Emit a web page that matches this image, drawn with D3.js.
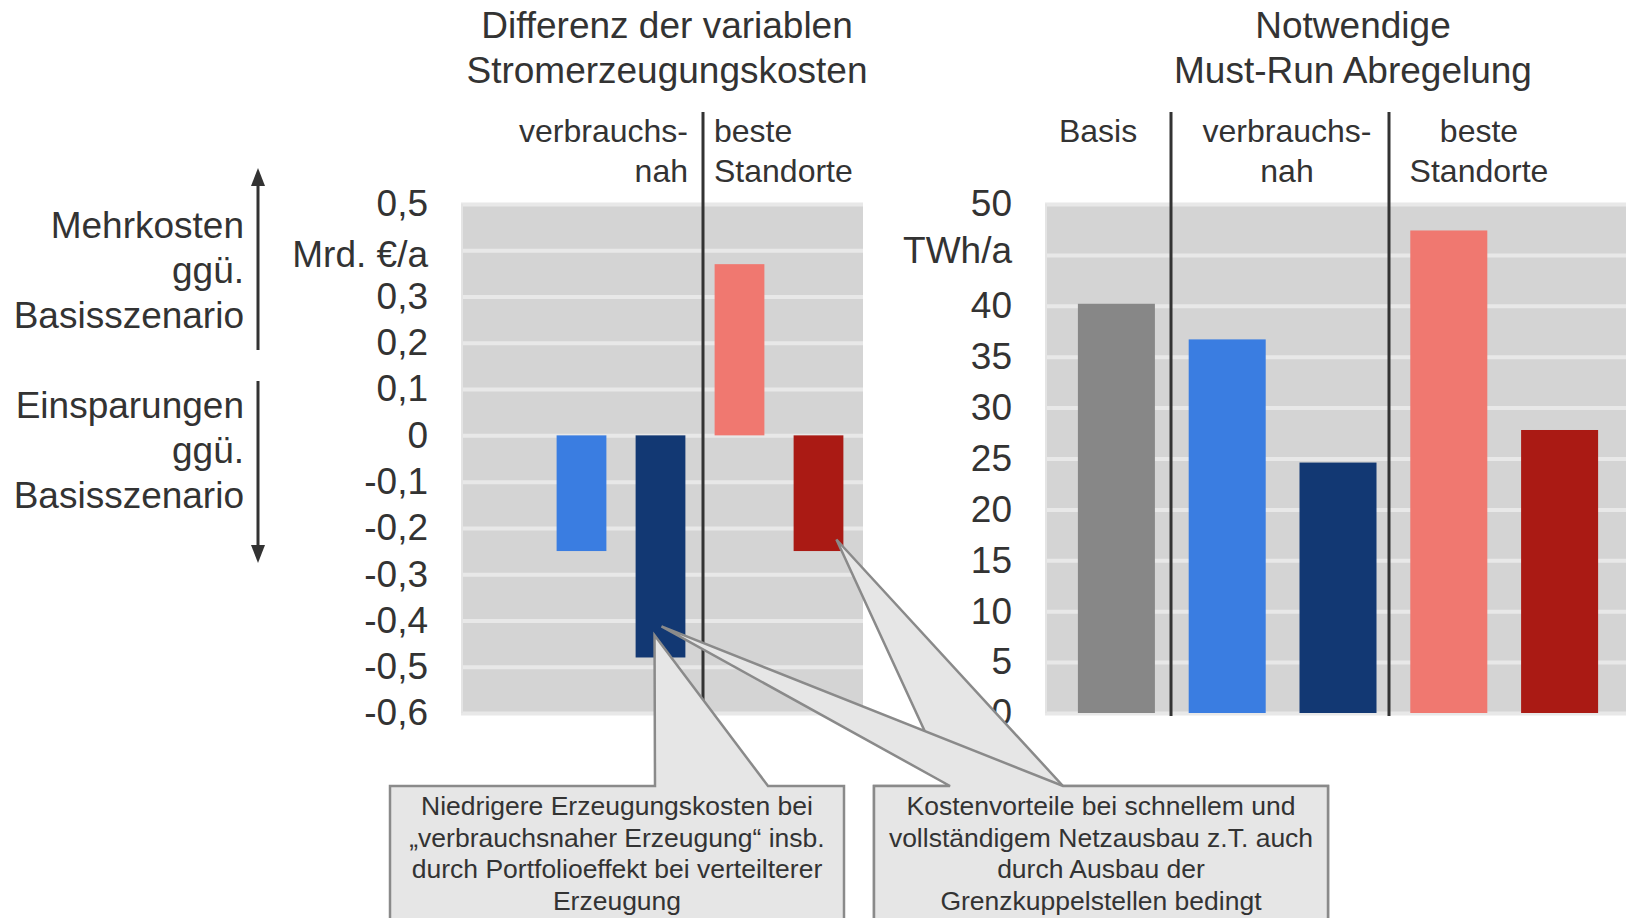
<!DOCTYPE html>
<html>
<head>
<meta charset="utf-8">
<script src="https://cdn.jsdelivr.net/npm/d3@7"></script>
<style>
  body { margin: 0; background: #fff; }
  text { font-family: "Liberation Sans", Arial, sans-serif; fill: #333; }
</style>
</head>
<body>
<svg id="chart" width="1626" height="918"></svg>
<script>
// scenario slots (same order in both panels)
const categories = ["Basis", "verbrauchsnah 1", "verbrauchsnah 2", "beste Standorte 1", "beste Standorte 2"];
const barColors = ["#878787", "#3a7de1", "#123873", "#f07870", "#aa1a14"];

// Differenz der variablen Stromerzeugungskosten, Mrd. €/a (Basis = reference, no bar)
const costValues = [null, -0.25, -0.48, 0.37, -0.25];
// Notwendige Must-Run Abregelung, TWh/a
const mustRunValues = [40.2, 36.7, 24.6, 47.4, 27.8];

const costTicks = [0.5, 0.4, 0.3, 0.2, 0.1, 0, -0.1, -0.2, -0.3, -0.4, -0.5, -0.6];
const costUnit = "Mrd. €/a";      // shown in place of the 0,4 label
const mustRunTicks = [0, 5, 10, 15, 20, 25, 30, 35, 40, 45, 50];
const mustRunUnit = "TWh/a";      // shown in place of the 45 label

const leftTitle = ["Differenz der variablen", "Stromerzeugungskosten"];
const rightTitle = ["Notwendige", "Must-Run Abregelung"];
const upLabel = ["Mehrkosten", "ggü.", "Basisszenario"];
const downLabel = ["Einsparungen", "ggü.", "Basisszenario"];
const note1 = ["Niedrigere Erzeugungskosten bei", "„verbrauchsnaher Erzeugung“ insb.", "durch Portfolioeffekt bei verteilterer", "Erzeugung"];
const note2 = ["Kostenvorteile bei schnellem und", "vollständigem Netzausbau z.T. auch", "durch Ausbau der", "Grenzkuppelstellen bedingt"];

var svg = d3.select("#chart");
var top0 = 204, bottom0 = 713;
var ink = "#333";

function fmt(v) { return String(v).replace(".", ","); }

function multiText(g, lines, x, y, lh, size, anchor) {
    g.append("text")
        .attr("text-anchor", anchor)
        .style("font-size", size + "px")
        .selectAll("tspan")
        .data(lines)
        .join("tspan")
        .attr("x", x)
        .attr("y", function(d, i) { return y + i * lh; })
        .text(function(d) { return d; });
}

function panel(opts) {
    var y = d3.scaleLinear().domain(opts.domain).range([bottom0, top0]);
    var x = d3.scaleBand().domain(categories).range(opts.range).paddingInner(opts.pad).paddingOuter(opts.pad / 2);

    svg.append("rect")
        .attr("x", opts.bg[0]).attr("y", top0)
        .attr("width", opts.bg[1] - opts.bg[0]).attr("height", bottom0 - top0)
        .attr("fill", "#d4d4d4");

    svg.append("g")
        .attr("transform", "translate(" + opts.bg[0] + ",0)")
        .call(d3.axisLeft(y).tickValues(opts.ticks).tickSize(-(opts.bg[1] - opts.bg[0])).tickFormat(""))
        .call(function(g) { g.select(".domain").remove(); })
        .selectAll("line").attr("stroke", "#e8e8e8").attr("stroke-width", 4);

    svg.append("line")
        .attr("x1", opts.bg[0] + 1).attr("x2", opts.bg[0] + 1)
        .attr("y1", top0).attr("y2", bottom0)
        .attr("stroke", "#e4e4e4").attr("stroke-width", 2);

    var ax = svg.append("g")
        .attr("transform", "translate(" + opts.labelX + ",0)")
        .call(d3.axisLeft(y).tickValues(opts.ticks).tickSize(0).tickPadding(0)
            .tickFormat(function(d) { return d === opts.unitAt ? opts.unit : fmt(d); }));
    ax.select(".domain").remove();
    ax.attr("font-family", null).attr("font-size", null);
    ax.selectAll("text").style("font-size", "37px").attr("fill", ink)
        .attr("y", function(d) { return d === opts.unitAt ? opts.unitDy : 0; });

    var data = categories.map(function(c, i) { return {cat: c, v: opts.values[i], color: barColors[i]}; })
        .filter(function(d) { return d.v !== null; });

    svg.append("g").selectAll("rect")
        .data(data)
        .join("rect")
        .attr("x", function(d) { return x(d.cat); })
        .attr("width", x.bandwidth())
        .attr("y", function(d) { return y(Math.max(0, d.v)); })
        .attr("height", function(d) { return Math.abs(y(d.v) - y(0)); })
        .attr("fill", function(d) { return d.color; });

    opts.seps.forEach(function(sx) {
        svg.append("line")
            .attr("x1", sx).attr("x2", sx).attr("y1", 112).attr("y2", 716)
            .attr("stroke", ink).attr("stroke-width", 3);
    });

    multiText(svg, opts.title, opts.titleX, 38, 45, 37, "middle");
    return {x: x, y: y};
}

// left panel
var L = panel({
    domain: [-0.6, 0.5], range: [463, 858], pad: 0.37, bg: [461, 863],
    ticks: costTicks, unitAt: 0.4, unit: costUnit, unitDy: 4, values: costValues,
    labelX: 428, seps: [703], title: leftTitle, titleX: 667
});
multiText(svg, ["verbrauchs-", "nah"], 688, 142, 40, 32, "end");
multiText(svg, ["beste", "Standorte"], 714, 142, 40, 32, "start");

// right panel
var R = panel({
    domain: [0, 50], range: [1061, 1615], pad: 0.305, bg: [1045, 1670],
    ticks: mustRunTicks, unitAt: 45, unit: mustRunUnit, unitDy: -4, values: mustRunValues,
    labelX: 1012, seps: [1171, 1389], title: rightTitle, titleX: 1353
});
multiText(svg, ["Basis"], 1098, 142, 40, 32, "middle");
multiText(svg, ["verbrauchs-", "nah"], 1287, 142, 40, 32, "middle");
multiText(svg, ["beste", "Standorte"], 1479, 142, 40, 32, "middle");

// side arrows
multiText(svg, upLabel, 244, 238, 45, 37, "end");
multiText(svg, downLabel, 244, 418, 45, 37, "end");
var ax0 = 258;
svg.append("line").attr("x1", ax0).attr("x2", ax0).attr("y1", 350).attr("y2", 182).attr("stroke", ink).attr("stroke-width", 3);
svg.append("path").attr("d", "M" + ax0 + ",168 l-7,18 l14,0 z").attr("fill", ink);
svg.append("line").attr("x1", ax0).attr("x2", ax0).attr("y1", 381).attr("y2", 548).attr("stroke", ink).attr("stroke-width", 3);
svg.append("path").attr("d", "M" + ax0 + ",563 l-7,-18 l14,0 z").attr("fill", ink);

// callouts
function callout(box, base, tip, lines) {
    var x0 = box[0], x1 = box[1], yt = 786, yb = 940;
    var pts = [[x0, yb], [x0, yt], [base[0], yt], tip, [base[1], yt], [x1, yt], [x1, yb]];
    svg.append("path")
        .attr("d", d3.line()(pts))
        .attr("fill", "#e6e6e6").attr("stroke", "#8a8a8a").attr("stroke-width", 2.5)
        .attr("stroke-linejoin", "miter");
    if (lines) multiText(svg, lines, (x0 + x1) / 2, 815, 31.5, 26.5, "middle");
}

var bw = L.x.bandwidth();
var tipBlue1 = [L.x(categories[2]) + bw * 0.38, L.y(costValues[2] * 0.9)];
var tipBlue2 = [L.x(categories[2]) + bw * 0.52, L.y(costValues[2] * 0.86)];
var tipRed = [L.x(categories[4]) + bw * 0.86, L.y(costValues[4] * 0.9)];

callout([390, 844], [655, 768], tipBlue1, note1);
callout([874, 1328], [950, 1063], tipRed, null);
callout([874, 1328], [950, 1063], tipBlue2, note2);
</script>
</body>
</html>
